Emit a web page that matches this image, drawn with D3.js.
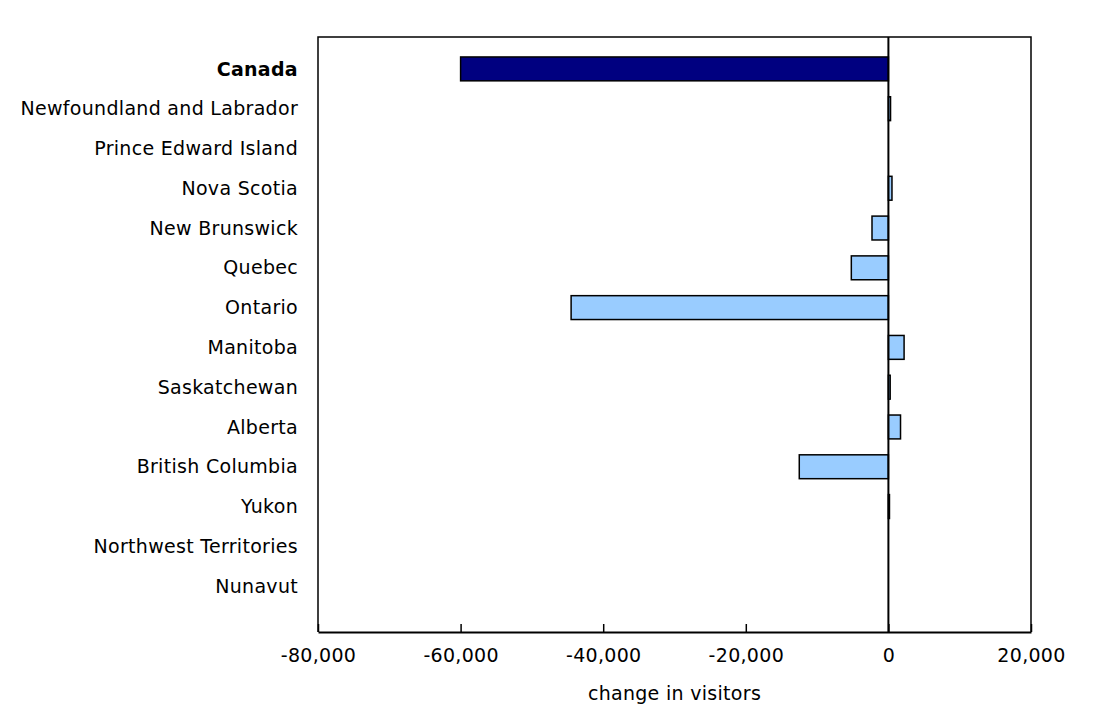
<!DOCTYPE html>
<html lang="en">
<head>
    <meta charset="UTF-8">
    <title>Change in visitors by province</title>
    <script src="https://d3js.org/d3.v7.min.js"></script>
    <style>
        body {
            margin: 0;
            background-color: #fff;
            font-family: "DejaVu Sans", Verdana, sans-serif;
        }
        .label {
            font-size: 19px;
            letter-spacing: 0.3px;
            fill: #000;
        }
        .tick text {
            font-size: 19px;
            letter-spacing: 0.3px;
            fill: #000;
        }
    </style>
</head>
<body>
    <svg id="chart" width="1108" height="715"></svg>

    <script>
        const regions = [
            'Canada', 'Newfoundland and Labrador', 'Prince Edward Island', 'Nova Scotia',
            'New Brunswick', 'Quebec', 'Ontario', 'Manitoba', 'Saskatchewan', 'Alberta',
            'British Columbia', 'Yukon', 'Northwest Territories', 'Nunavut'
        ];
        const visitorChange = [
            -60000, 300, 0, 500, -2300, -5200, -44500, 2200, 250, 1700, -12500, 150, 0, 0
        ];
        const xTicks = [-80000, -60000, -40000, -20000, 0, 20000];

        const data = regions.map((r, i) => ({ region: r, value: visitorChange[i] }));

        const svg = d3.select('#chart');
        const plotLeft = 318, plotRight = 1031, plotTop = 37, plotBottom = 632;

        const x = d3.scaleLinear()
            .domain([-80000, 20000])
            .range([plotLeft, plotRight]);

        const y = d3.scaleBand()
            .domain(regions)
            .range([49, 606])
            .paddingInner(0.4)
            .paddingOuter(0.2);

        const fmt = d3.format(',');
        const tickFormat = d => fmt(d).replace('\u2212', '-');

        // bars
        svg.selectAll('.bar')
            .data(data)
            .enter()
            .append('rect')
            .attr('class', 'bar')
            .attr('x', d => x(Math.min(0, d.value)))
            .attr('y', d => y(d.region))
            .attr('width', d => Math.abs(x(d.value) - x(0)))
            .attr('height', y.bandwidth())
            .attr('fill', d => d.region === 'Canada' ? '#000080' : '#99ccff')
            .attr('stroke', '#000')
            .attr('stroke-width', 1.5);

        // frame (top, left, right)
        svg.append('path')
            .attr('d', `M${plotLeft},${plotBottom}V${plotTop}H${plotRight}V${plotBottom}`)
            .attr('fill', 'none')
            .attr('stroke', '#000')
            .attr('stroke-width', 1.5);

        // zero line
        svg.append('line')
            .attr('x1', x(0)).attr('x2', x(0))
            .attr('y1', plotTop).attr('y2', plotBottom)
            .attr('stroke', '#000')
            .attr('stroke-width', 2);

        // bottom axis with inward ticks
        const xAxis = svg.append('g')
            .attr('transform', `translate(0,${plotBottom})`)
            .call(d3.axisBottom(x)
                .tickValues(xTicks)
                .tickFormat(tickFormat)
                .tickSizeInner(-8)
                .tickSizeOuter(0)
                .tickPadding(17));
        xAxis.select('.domain').attr('stroke-width', 2);
        xAxis.selectAll('.tick line').attr('stroke-width', 1.5);
        xAxis.selectAll('.tick text').attr('font-family', '"DejaVu Sans", Verdana, sans-serif');

        // category labels
        svg.selectAll('.label')
            .data(regions)
            .enter()
            .append('text')
            .attr('class', 'label')
            .attr('x', 298)
            .attr('y', d => y(d) + y.bandwidth() / 2)
            .attr('dy', '0.35em')
            .attr('text-anchor', 'end')
            .attr('font-weight', d => d === 'Canada' ? 'bold' : 'normal')
            .text(d => d);

        // axis title
        svg.append('text')
            .attr('class', 'label')
            .attr('x', (plotLeft + plotRight) / 2)
            .attr('y', 700)
            .attr('text-anchor', 'middle')
            .text('change in visitors');
    </script>
</body>
</html>
